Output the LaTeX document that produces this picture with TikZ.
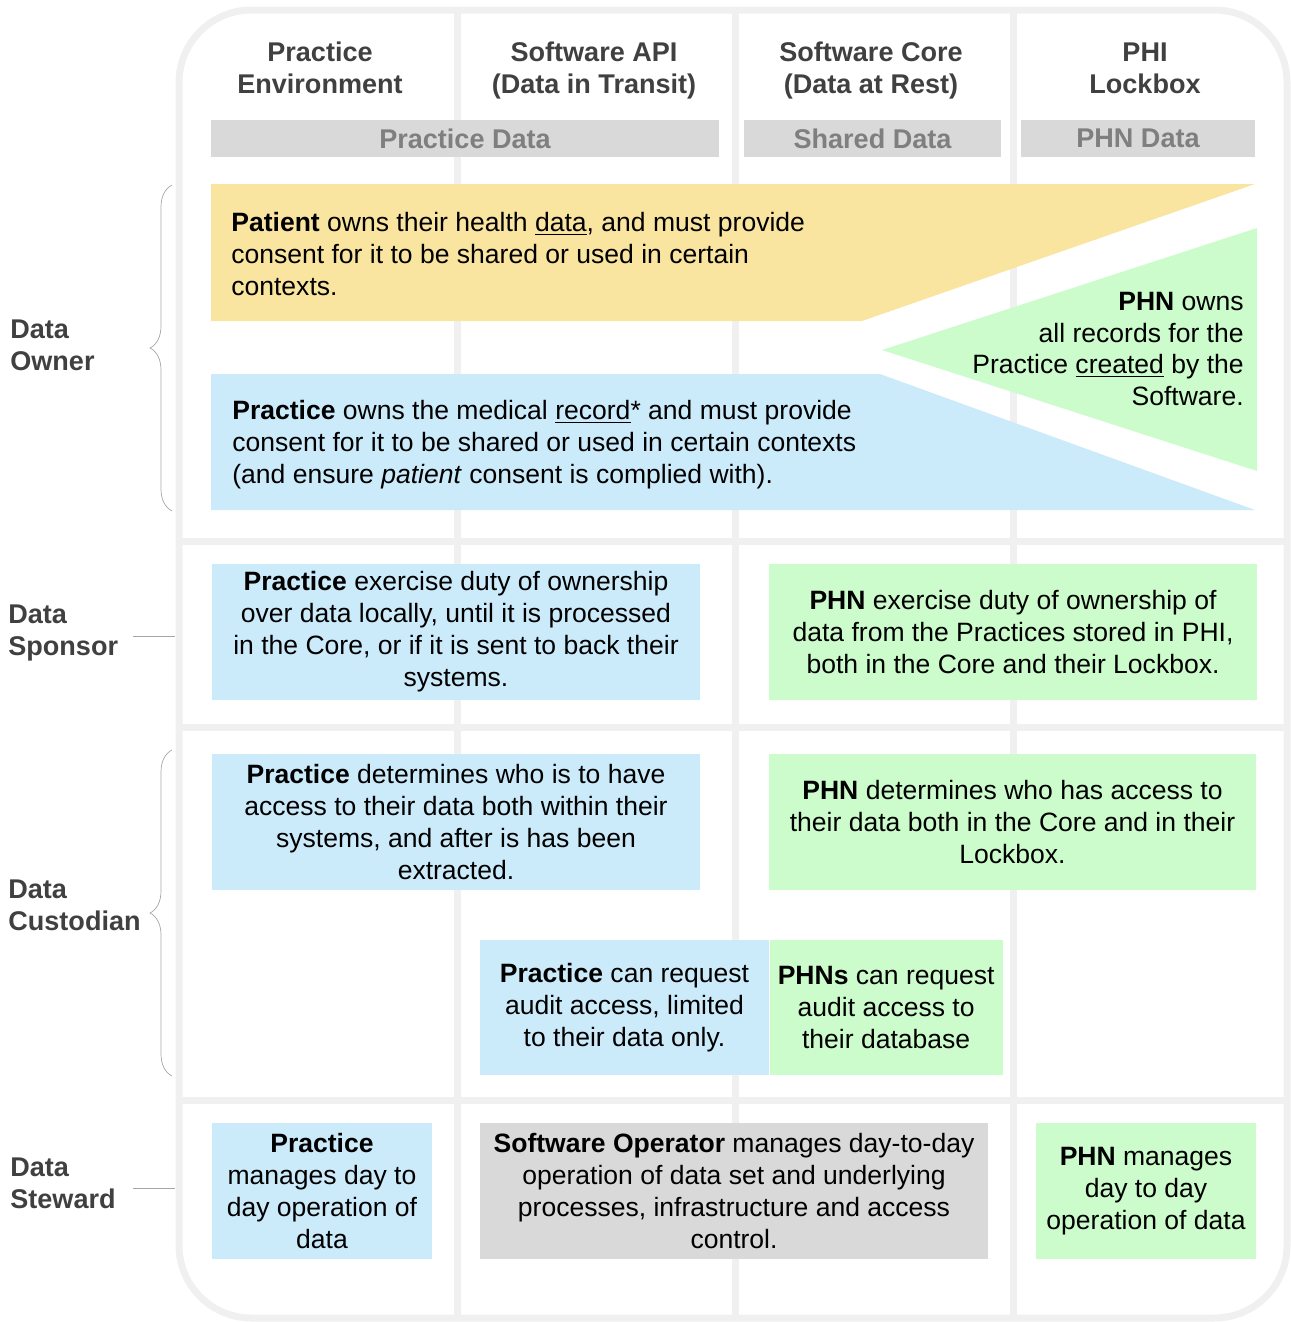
\documentclass[tikz,border=0pt]{standalone}
\usepackage{fontspec}
\setmainfont{Liberation Sans}
\usepackage{xcolor}
\usetikzlibrary{positioning, decorations.pathreplacing, calc}
\definecolor{gridgray}{HTML}{F0F0F0}
\definecolor{bargray}{HTML}{D9D9D9}
\definecolor{bartext}{HTML}{7F7F7F}
\definecolor{headtext}{HTML}{404040}
\definecolor{ownyellow}{HTML}{F9E5A0}
\definecolor{practiceblue}{HTML}{CCEBFA}
\definecolor{phngreen}{HTML}{CCFCCC}
\definecolor{bracegray}{HTML}{A6A6A6}
\newcommand{\txt}{\fontsize{15.1}{18.2}\selectfont}
\newcommand{\headtxt}{\fontsize{15.4}{18.2}\selectfont}
\tikzset{%
  grid line/.style={draw=gridgray, line width=0.14cm},
  frame/.style={grid line, rounded corners=1.45cm},
  head/.style={align=center, font=\headtxt\bfseries, text=headtext, inner sep=0pt},
  bar/.style={fill=bargray, text=bartext, font=\headtxt\bfseries, minimum height=0.74cm, inner sep=0pt},
  box/.style={align=center, font=\txt, inner sep=0pt, minimum height=2.72cm},
  plain/.style={font=\txt, inner sep=0pt},
  role/.style={align=left, anchor=west, font=\headtxt\bfseries, text=headtext, inner sep=0pt},
  brace/.style={
    decorate,
    decoration={brace, amplitude=0.44cm},
    draw=bracegray, thin
  },
  tick/.style={draw=bracegray, thin}
}
\begin{document}
\begin{tikzpicture}[x=0.02cm, y=-0.02cm]
  \useasboundingbox (0,0) rectangle (1291,1322);
  % table frame and grid
  \draw[frame] (179,10) rectangle (1287,1318);
  \foreach \x in {457, 735, 1013}
    \draw[grid line] (\x,10) -- (\x,1318);
  \foreach \y in {541, 727, 1100}
    \draw[grid line] (179,\y) -- (1287,\y);

  % column heads
  \node[head] (envhead) at (320,68) {Practice\\Environment};
  \node[head] (apihead) at (594,70.5) {Software API\\(Data in Transit)};
  \node[head] (corehead) at (871,70.5) {Software Core\\(Data at Rest)};
  \node[head] (lockhead) at (1145,68) {PHI\\Lockbox};
  \node[bar, minimum width=10.16cm] (practicebar) at (465,138.5) {Practice Data};
  \node[bar, minimum width=5.14cm] (sharedbar) at (872.5,138.5) {Shared Data};
  \node[bar, minimum width=4.68cm] (phnbar) at (1138,138.5) {PHN Data};

  % data owner
  \fill[ownyellow] (211,184) -- (1255,184) -- (862,321) -- (211,321) -- cycle;
  \fill[practiceblue] (211,374) -- (880,374) -- (1255,510) -- (211,510) -- cycle;
  \fill[phngreen] (1257,228) -- (1257,471) -- (882,350) -- cycle;
  \node[plain, anchor=west, align=left] (patientown) at (231,254)
    {\textbf{Patient} owns their health \underline{data}, and must provide\\consent for it to be shared or used in certain\\contexts.};
  \node[plain, anchor=west, align=left] (practiceown) at (232,445)
    {\textbf{Practice} owns the medical \underline{record}* and must provide\\consent for it to be shared or used in certain contexts\\(and ensure \textit{patient} consent is complied with).};
  \node[plain, anchor=east, align=right] (phnown) at (1244,349)
    {\textbf{PHN} owns\\all records for the\\Practice \underline{created} by the\\Software.};

  % data sponsor
  \node[box, fill=practiceblue, minimum width=9.76cm] (practicesponsor) at (456,632)
    {\textbf{Practice} exercise duty of ownership\\over data locally, until it is processed\\in the Core, or if it is sent to back their\\systems.};
  \node[box, fill=phngreen, minimum width=9.76cm] (phnsponsor) at (1013,632)
    {\textbf{PHN} exercise duty of ownership of\\data from the Practices stored in PHI,\\both in the Core and their Lockbox.};

  % data custodian
  \node[box, fill=practiceblue, minimum width=9.76cm] (practicecustodian) at (456,822)
    {\textbf{Practice} determines who is to have\\access to their data both within their\\systems, and after is has been\\extracted.};
  \node[box, fill=phngreen, minimum width=9.74cm] (phncustodian) at (1012.5,822)
    {\textbf{PHN} determines who has access to\\their data both in the Core and in their\\Lockbox.};
  \node[box, fill=practiceblue, minimum width=5.78cm, minimum height=2.7cm] (practiceaudit) at (624.5,1007.5)
    {\textbf{Practice} can request\\audit access, limited\\to their data only.};
  \node[box, fill=phngreen, minimum width=4.66cm, minimum height=2.7cm, right=0pt of practiceaudit] (phnaudit)
    {\textbf{PHNs} can request\\audit access to\\their database};

  % data steward
  \node[box, fill=practiceblue, minimum width=4.4cm] (practicesteward) at (322,1191)
    {\textbf{Practice}\\manages day to\\day operation of\\data};
  \node[box, fill=bargray, minimum width=10.16cm] (operatorsteward) at (734,1191)
    {\textbf{Software Operator} manages day-to-day\\operation of data set and underlying\\processes, infrastructure and access\\control.};
  \node[box, fill=phngreen, minimum width=4.4cm] (phnsteward) at (1146,1191)
    {\textbf{PHN} manages\\day to day\\operation of data};

  % role labels
  \node[role] (owner) at (10,345) {Data\\Owner};
  \node[role] (sponsor) at (8,633) {Data\\Sponsor};
  \node[role] (custodian) at (8,905) {Data\\Custodian};
  \node[role] (steward) at (10,1183) {Data\\Steward};
  \coordinate (ownertop) at (172,185);
  \coordinate (ownerbot) at (172,511);
  \coordinate (custodiantop) at (172,750);
  \coordinate (custodianbot) at (172,1076);
  \draw[brace] (ownerbot) -- (ownertop);
  \draw[brace] (custodianbot) -- (custodiantop);
  \coordinate (sponsortick) at (175,636);
  \coordinate (stewardtick) at (175,1188);
  \draw[tick] (133,636) -- (sponsortick);
  \draw[tick] (133,1188) -- (stewardtick);
\end{tikzpicture}
\end{document}
